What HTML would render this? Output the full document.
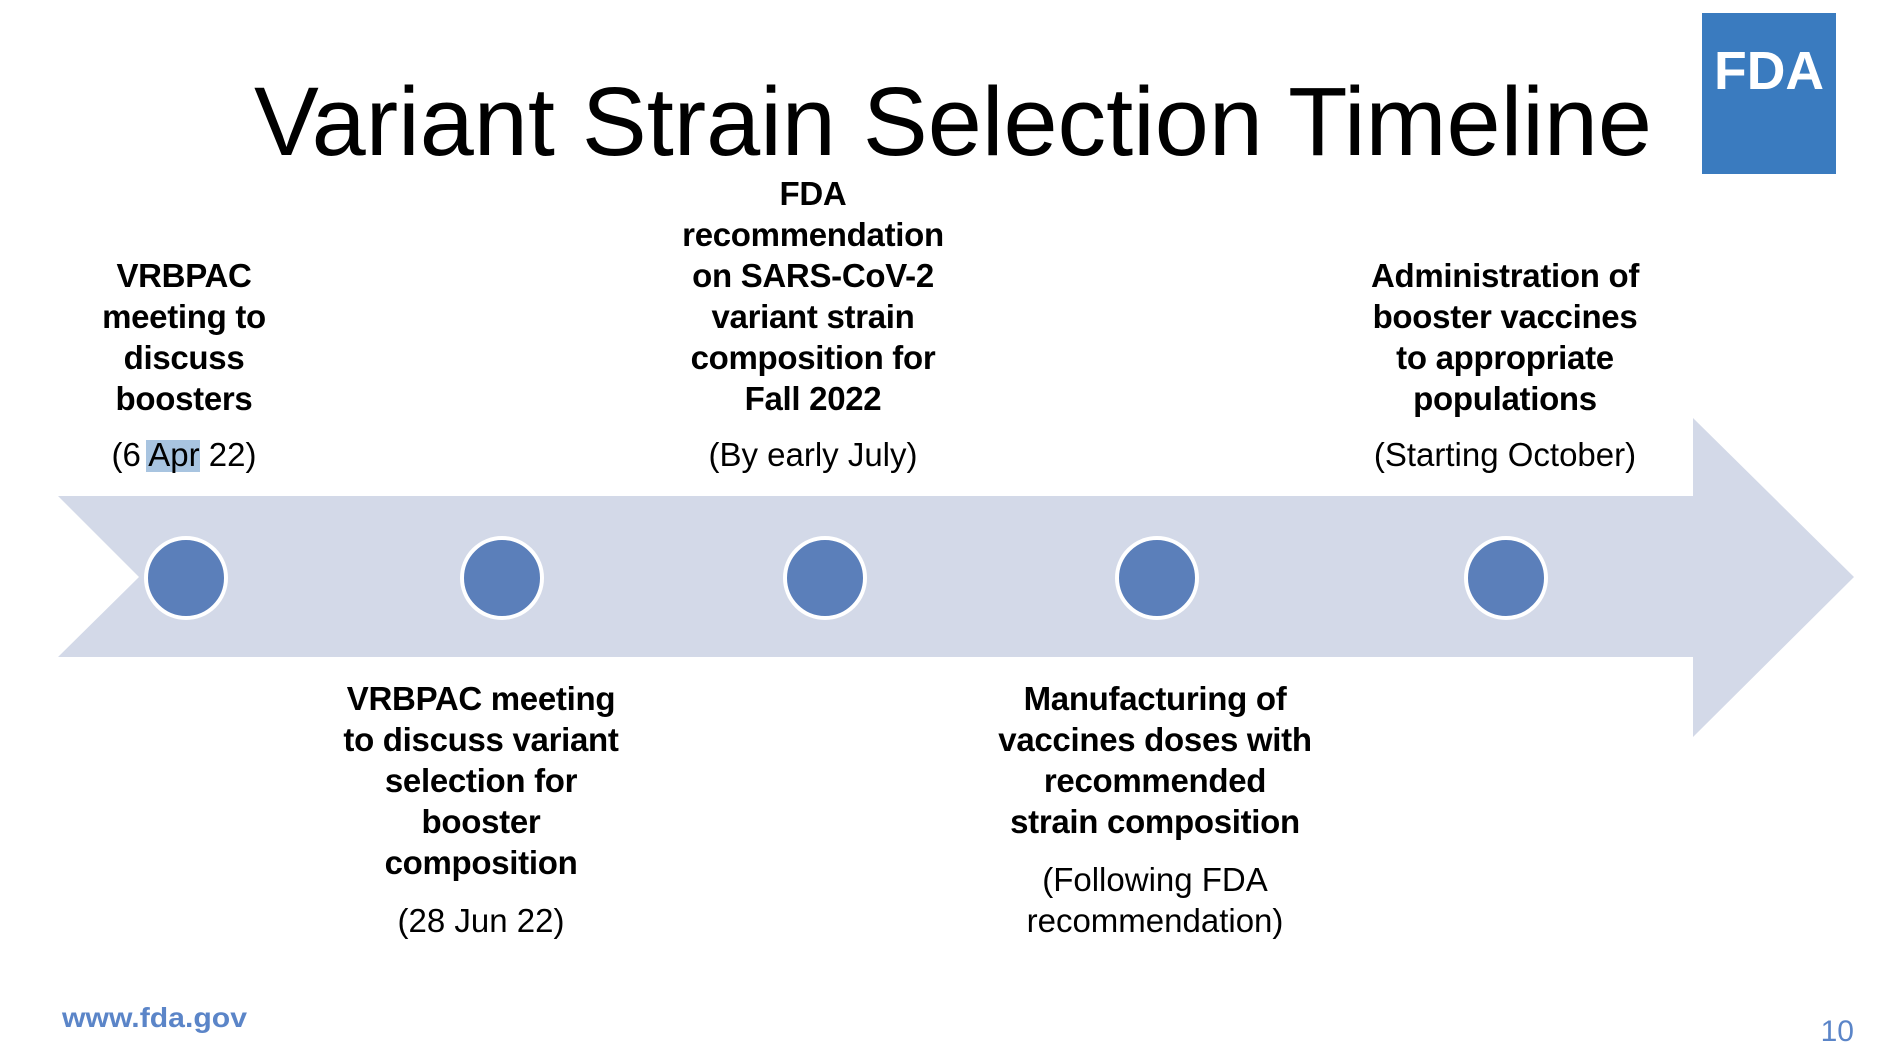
<!DOCTYPE html>
<html><head><meta charset="utf-8"><style>
html,body{margin:0;padding:0;background:#fff;}
svg{display:block;}
.b{font-family:"Liberation Sans",sans-serif;font-weight:bold;font-size:33px;fill:#000;text-anchor:middle;letter-spacing:-0.3px;}
.r{font-family:"Liberation Sans",sans-serif;font-size:33px;fill:#000;text-anchor:middle;}
</style></head><body>
<svg width="1884" height="1044" viewBox="0 0 1884 1044">
<rect width="1884" height="1044" fill="#fff"/>
<text x="254" y="155" font-family="Liberation Sans, sans-serif" font-size="97" textLength="1398" lengthAdjust="spacingAndGlyphs" fill="#000">Variant Strain Selection Timeline</text>
<g>
<rect x="1702" y="13" width="134" height="161" fill="#3a7bbf"/>
<text x="1769" y="89" text-anchor="middle" font-family="Liberation Sans, sans-serif" font-weight="bold" font-size="54" textLength="110" lengthAdjust="spacingAndGlyphs" fill="#fff">FDA</text>
</g>
<polygon fill="#d3d9e8" points="58,496 1693,496 1693,418 1854,577 1693,737 1693,657 58,657 139,577"/>
<g fill="#5b7fba" stroke="#fff" stroke-width="4">
<circle cx="186" cy="578" r="40"/>
<circle cx="502" cy="578" r="40"/>
<circle cx="825" cy="578" r="40"/>
<circle cx="1157" cy="578" r="40"/>
<circle cx="1506" cy="578" r="40"/>
</g>
<rect x="146" y="440" width="54" height="32" fill="#a8c4e0"/>
<g>
<text class="b" x="184" y="287">VRBPAC</text>
<text class="b" x="184" y="328">meeting to</text>
<text class="b" x="184" y="369">discuss</text>
<text class="b" x="184" y="410">boosters</text>
<text class="r" x="184" y="466">(6 Apr 22)</text>
</g>
<g>
<text class="b" x="481" y="710">VRBPAC meeting</text>
<text class="b" x="481" y="751">to discuss variant</text>
<text class="b" x="481" y="792">selection for</text>
<text class="b" x="481" y="833">booster</text>
<text class="b" x="481" y="874">composition</text>
<text class="r" x="481" y="932">(28 Jun 22)</text>
</g>
<g>
<text class="b" x="813" y="205">FDA</text>
<text class="b" x="813" y="246">recommendation</text>
<text class="b" x="813" y="287">on SARS-CoV-2</text>
<text class="b" x="813" y="328">variant strain</text>
<text class="b" x="813" y="369">composition for</text>
<text class="b" x="813" y="410">Fall 2022</text>
<text class="r" x="813" y="466">(By early July)</text>
</g>
<g>
<text class="b" x="1155" y="710">Manufacturing of</text>
<text class="b" x="1155" y="751">vaccines doses with</text>
<text class="b" x="1155" y="792">recommended</text>
<text class="b" x="1155" y="833">strain composition</text>
<text class="r" x="1155" y="891">(Following FDA</text>
<text class="r" x="1155" y="932">recommendation)</text>
</g>
<g>
<text class="b" x="1505" y="287">Administration of</text>
<text class="b" x="1505" y="328">booster vaccines</text>
<text class="b" x="1505" y="369">to appropriate</text>
<text class="b" x="1505" y="410">populations</text>
<text class="r" x="1505" y="466">(Starting October)</text>
</g>
<text x="62" y="1027" font-family="Liberation Sans, sans-serif" font-weight="bold" font-size="28" textLength="185" lengthAdjust="spacingAndGlyphs" fill="#5b85c8">www.fda.gov</text>
<text x="1854" y="1041" text-anchor="end" font-family="Liberation Sans, sans-serif" font-size="30" fill="#5b85c8">10</text>
</svg>
</body></html>
